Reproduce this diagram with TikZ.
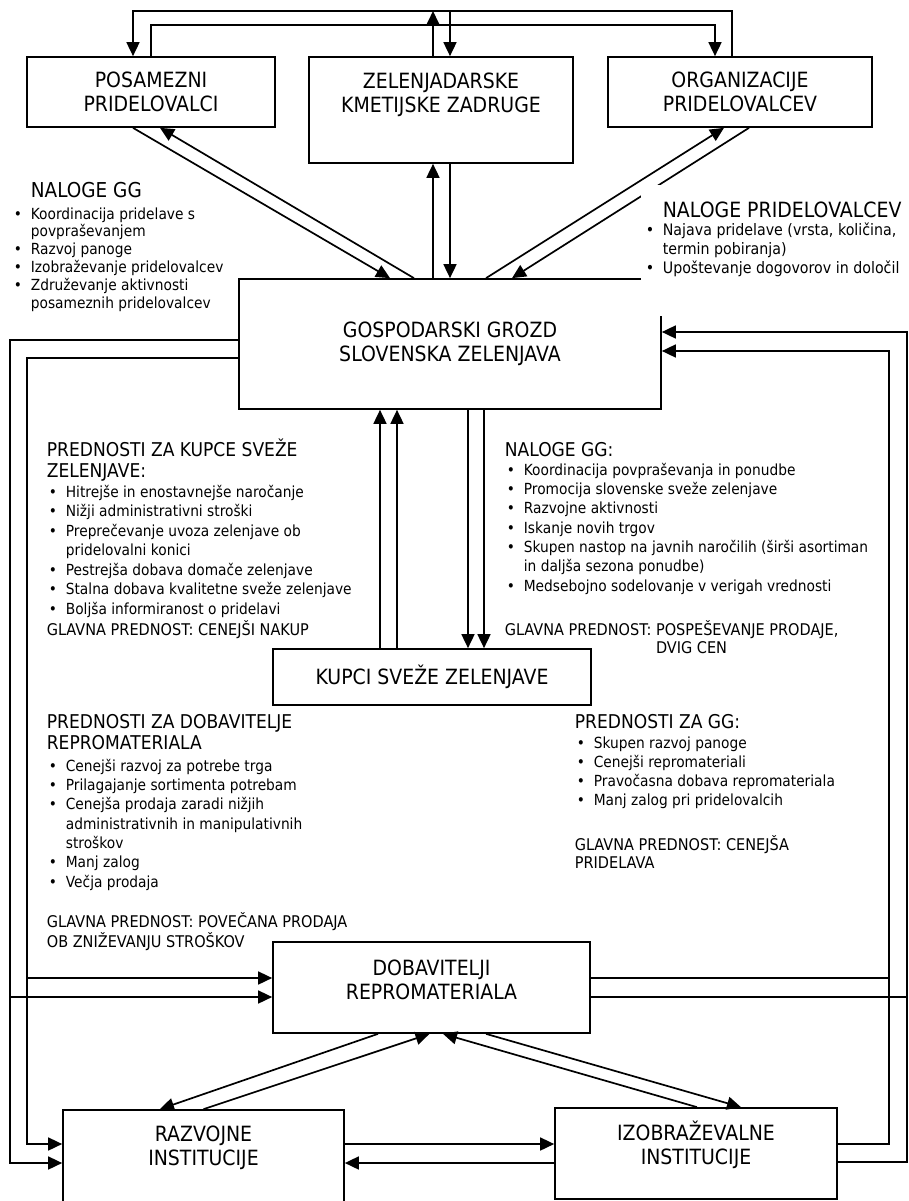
\documentclass[tikz,border=0pt]{standalone}
\usepackage{fontspec}
\setmainfont{DejaVu Sans}[FakeStretch=0.9]
\usetikzlibrary{arrows.meta}

\newcommand{\itm}{\makebox[17pt][l]{•}}
\newcommand{\ind}{\hspace*{17pt}}

\tikzset{
  box/.style={draw, line width=1.7pt, inner sep=0pt, align=center,
    font=\fontsize{21}{24}\selectfont},
  lbl/.style={inner sep=0pt, align=center, font=\fontsize{21}{24}\selectfont},
  txt/.style={anchor=base west, inner sep=0pt, align=left},
  hdr/.style={txt, font=\fontsize{19}{21.5}\selectfont},
  bul/.style={txt, font=\fontsize{15.3}{19.3}\selectfont},
  glv/.style={txt, font=\fontsize{16.1}{19.5}\selectfont}
}

\begin{document}
\begin{tikzpicture}[x=1pt, y=-1pt, line width=1.7pt, >={Triangle[length=14pt,width=13pt]}]
\path[use as bounding box, fill=white] (0,0) rectangle (909,1201);

% boxes
\node[box, minimum width=248pt, minimum height=70pt] (pp) at (151,92) {POSAMEZNI\\PRIDELOVALCI};
\node[box, minimum width=264pt, minimum height=106pt] (zkz) at (441,110) {};
\node[lbl] (zkzt) at (441,95) {ZELENJADARSKE\\KMETIJSKE ZADRUGE};
\node[box, minimum width=264pt, minimum height=70pt] (op) at (740,92) {ORGANIZACIJE\\PRIDELOVALCEV};
\node[box, minimum width=422pt, minimum height=130pt] (gg) at (450,344) {GOSPODARSKI GROZD\\SLOVENSKA ZELENJAVA};
\node[box, minimum width=318pt, minimum height=56pt] (kup) at (432,677) {KUPCI SVEŽE ZELENJAVE};
\node[box, minimum width=317pt, minimum height=91pt] (dob) at (431.5,987.5) {};
\node[lbl] (dobt) at (431.5,979.5) {DOBAVITELJI\\REPROMATERIALA};
\node[box, minimum width=281pt, minimum height=94pt] (raz) at (203.5,1157) {};
\node[lbl] (razt) at (203.5,1147.5) {RAZVOJNE\\INSTITUCIJE};
\node[box, minimum width=282pt, minimum height=91pt] (izo) at (696,1153.5) {};
\node[lbl] (izot) at (696,1145) {IZOBRAŽEVALNE\\INSTITUCIJE};

% rails
\coordinate (ta) at (0,11);
\coordinate (tb) at (0,25);
\coordinate (lo) at (10,0);
\coordinate (li) at (27,0);
\coordinate (ri) at (889,0);
\coordinate (ro) at (907,0);

% top loop
\draw[->] ([xshift=-8pt]op.north) -- ([xshift=-8pt]op.north |- ta) -- ([xshift=-18pt]pp.north |- ta) -- ([xshift=-18pt]pp.north);
\draw[->] (pp.north) -- (pp.north |- tb) -- ([xshift=-25pt]op.north |- tb) -- ([xshift=-25pt]op.north);
\draw[->] ([xshift=-8pt]zkz.north) -- ([xshift=-8pt]zkz.north |- ta);
\draw[->] ([xshift=9pt]zkz.north |- ta) -- ([xshift=9pt]zkz.north);

% producers <-> cluster
\draw[->] ([xshift=-18pt]pp.south) -- ([xshift=-60pt]gg.north);
\draw[->] ([xshift=-36pt]gg.north) -- ([xshift=9pt]pp.south);
\draw[->] ([xshift=-8pt]zkz.south |- gg.north) -- ([xshift=-8pt]zkz.south);
\draw[->] ([xshift=9pt]zkz.south) -- ([xshift=9pt]zkz.south |- gg.north);
\draw[->] ([xshift=36pt]gg.north) -- ([xshift=-16pt]op.south);
\draw[->] ([xshift=9pt]op.south) -- ([xshift=62pt]gg.north);

% cluster <-> buyers
\draw[->] ([xshift=-52pt]kup.north) -- ([xshift=-52pt]kup.north |- gg.south);
\draw[->] ([xshift=-35pt]kup.north) -- ([xshift=-35pt]kup.north |- gg.south);
\draw[->] ([xshift=36pt]kup.north |- gg.south) -- ([xshift=36pt]kup.north);
\draw[->] ([xshift=52pt]kup.north |- gg.south) -- ([xshift=52pt]kup.north);

% left rails
\draw[->] ([yshift=4pt]gg.west) -- ([yshift=4pt]gg.west -| lo) -- ([yshift=-6pt]raz.west -| lo) -- ([yshift=-6pt]raz.west);
\draw[->] ([yshift=-14pt]gg.west) -- ([yshift=-14pt]gg.west -| li) -- ([yshift=13pt]raz.west -| li) -- ([yshift=13pt]raz.west);
\draw[->] ([yshift=9.5pt]dob.west -| li) -- ([yshift=9.5pt]dob.west);
\draw[->] ([yshift=-9.5pt]dob.west -| lo) -- ([yshift=-9.5pt]dob.west);

% right rails
\draw[->] ([yshift=-8.5pt]izo.east) -- ([yshift=-8.5pt]izo.east -| ro) -- ([yshift=12pt]gg.east -| ro) -- ([yshift=12pt]gg.east);
\draw[->] ([yshift=9.5pt]izo.east) -- ([yshift=9.5pt]izo.east -| ri) -- ([yshift=-7pt]gg.east -| ri) -- ([yshift=-7pt]gg.east);
\draw ([yshift=9.5pt]dob.east) -- ([yshift=9.5pt]dob.east -| ri);
\draw ([yshift=-9.5pt]dob.east) -- ([yshift=-9.5pt]dob.east -| ro);

% bottom triangle
\draw[->] ([xshift=-53.5pt]dob.south) -- ([xshift=-43.5pt]raz.north);
\draw[->] (raz.north) -- ([xshift=-2pt]dob.south);
\draw[->] ([xshift=1pt]izo.north) -- ([xshift=11.5pt]dob.south);
\draw[->] ([xshift=54.5pt]dob.south) -- ([xshift=45pt]izo.north);
\draw[->] ([yshift=13pt]raz.east) -- ([yshift=13pt]raz.east -| izo.west);
\draw[->] ([yshift=-6pt]raz.east -| izo.west) -- ([yshift=-6pt]raz.east);

% texts (placed at the baseline of their last line)
\node[hdr, font=\fontsize{20.5}{22}\selectfont] (ngg) at (30,197) {NALOGE GG};
\node[bul, font=\fontsize{15.3}{17.8}\selectfont] (nggb) at (13,308) {\itm Koordinacija pridelave s\\\ind povpraševanjem\\\itm Razvoj panoge\\\itm Izobraževanje pridelovalcev\\\itm Združevanje aktivnosti\\\ind posameznih pridelovalcev};

\fill[white] (641,185) rectangle (909,316);
\node[hdr, font=\fontsize{21}{22}\selectfont] (npr) at (662,217) {NALOGE PRIDELOVALCEV};
\node[bul, font=\fontsize{15.8}{19}\selectfont] (nprb) at (645,273) {\itm Najava pridelave (vrsta, količina,\\\ind termin pobiranja)\\\itm Upoštevanje dogovorov in določil};

\node[hdr] (pkz) at (46,477.5) {PREDNOSTI ZA KUPCE SVEŽE\\ZELENJAVE:};
\node[bul, font=\fontsize{15.3}{19.5}\selectfont] (pkzb) at (48,614) {\itm Hitrejše in enostavnejše naročanje\\\itm Nižji administrativni stroški\\\itm Preprečevanje uvoza zelenjave ob\\\ind pridelovalni konici\\\itm Pestrejša dobava domače zelenjave\\\itm Stalna dobava kvalitetne sveže zelenjave\\\itm Boljša informiranost o pridelavi};
\node[glv] (pkzg) at (46,635) {GLAVNA PREDNOST: CENEJŠI NAKUP};

\node[hdr] (ngs) at (504,456) {NALOGE GG:};
\node[bul] (ngsb) at (506,591) {\itm Koordinacija povpraševanja in ponudbe\\\itm Promocija slovenske sveže zelenjave\\\itm Razvojne aktivnosti\\\itm Iskanje novih trgov\\\itm Skupen nastop na javnih naročilih (širši asortiman\\\ind in daljša sezona ponudbe)\\\itm Medsebojno sodelovanje v verigah vrednosti};
\node[glv, font=\fontsize{16.1}{18}\selectfont] (ngsg) at (504,653) {GLAVNA PREDNOST: POSPEŠEVANJE PRODAJE,\\\hphantom{GLAVNA PREDNOST: }DVIG CEN};

\node[hdr, font=\fontsize{19}{21}\selectfont] (pdr) at (46,749) {PREDNOSTI ZA DOBAVITELJE\\REPROMATERIALA};
\node[bul] (pdrb) at (48,887) {\itm Cenejši razvoj za potrebe trga\\\itm Prilagajanje sortimenta potrebam\\\itm Cenejša prodaja zaradi nižjih\\\ind administrativnih in manipulativnih\\\ind stroškov\\\itm Manj zalog\\\itm Večja prodaja};
\node[glv, font=\fontsize{16.1}{20}\selectfont] (pdrg) at (46,947) {GLAVNA PREDNOST: POVEČANA PRODAJA\\OB ZNIŽEVANJU STROŠKOV};

\node[hdr] (pgg) at (574,728) {PREDNOSTI ZA GG:};
\node[bul, font=\fontsize{15.3}{19}\selectfont] (pggb) at (576,805) {\itm Skupen razvoj panoge\\\itm Cenejši repromateriali\\\itm Pravočasna dobava repromateriala\\\itm Manj zalog pri pridelovalcih};
\node[glv, font=\fontsize{16.1}{18.5}\selectfont] (pggg) at (574,868.5) {GLAVNA PREDNOST: CENEJŠA\\PRIDELAVA};
\end{tikzpicture}
\end{document}
